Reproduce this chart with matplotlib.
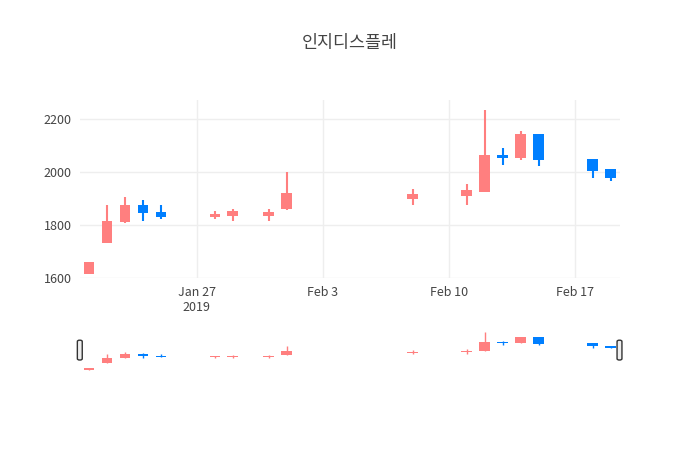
import datetime
import matplotlib
matplotlib.use('Agg')
import matplotlib.pyplot as plt
import matplotlib.dates as mdates
from matplotlib.patches import FancyBboxPatch
import numpy as np

plt.rcParams['font.family'] = ['Noto Sans CJK KR', 'DejaVu Sans']

dates = ['2019-01-21', '2019-01-22', '2019-01-23', '2019-01-24', '2019-01-25',
         '2019-01-28', '2019-01-29', '2019-01-31', '2019-02-01', '2019-02-08',
         '2019-02-11', '2019-02-12', '2019-02-13', '2019-02-14', '2019-02-15',
         '2019-02-18', '2019-02-19']
opens = [1617, 1731, 1810, 1876, 1851, 1829, 1835, 1835, 1860, 1899,
         1910, 1925, 2066, 2054, 2144, 2050, 2010]
highs = [1659, 1877, 1907, 1894, 1877, 1852, 1860, 1860, 2000, 1937,
         1954, 2235, 2091, 2155, 2144, 2050, 2010]
lows = [1617, 1731, 1808, 1816, 1824, 1821, 1815, 1816, 1858, 1877,
        1874, 1925, 2027, 2046, 2022, 1977, 1967]
closes = [1659, 1816, 1875, 1846, 1831, 1842, 1852, 1850, 1921, 1916,
          1931, 2065, 2054, 2144, 2044, 2004, 1979]

UP = '#ff7f7f'
DOWN = '#007fff'

x = mdates.date2num([datetime.datetime.strptime(d, '%Y-%m-%d') for d in dates])
o, h, l, c = map(np.array, (opens, highs, lows, closes))
cols = [UP if cc >= oo else DOWN for oo, cc in zip(o, c)]
x0 = mdates.date2num(datetime.datetime(2019, 1, 20, 12))
x1 = mdates.date2num(datetime.datetime(2019, 2, 19, 12))


def candles(ax, lw, minh):
    ax.vlines(x, l, h, colors=cols, lw=lw, zorder=2)
    bot = np.minimum(o, c)
    ax.bar(x, np.maximum(np.abs(c - o), minh), bottom=bot, width=0.58,
           color=cols, zorder=3)


fig = plt.figure(figsize=(7, 4.5), dpi=100)
ax = fig.add_axes([0.114, 0.382, 0.771, 0.396])
candles(ax, 1.5, 2)
ax.set_xlim(x0, x1)
ax.set_ylim(1600, 2272)
ax.set_yticks([1600, 1800, 2000, 2200])
ticks = [datetime.datetime(2019, 1, 27), datetime.datetime(2019, 2, 3),
         datetime.datetime(2019, 2, 10), datetime.datetime(2019, 2, 17)]
ax.set_xticks(mdates.date2num(ticks))
ax.set_xticklabels(['Jan 27\n2019', 'Feb 3', 'Feb 10', 'Feb 17'])
ax.grid(color='#eeeeee', lw=1)
ax.set_axisbelow(True)
for s in ax.spines.values():
    s.set_visible(False)
ax.tick_params(length=0, labelsize=9, colors='#444444', pad=6)
fig.text(0.5, 0.905, '인지디스플레', ha='center', va='center', fontsize=12.5,
         color='#444444')

# range slider
rs = fig.add_axes([0.114, 0.176, 0.771, 0.088])
candles(rs, 1.0, 8)
rs.set_xlim(x0, x1)
rs.set_ylim(1610, 2240)
rs.axis('off')
for xp in (0.114, 0.885):
    fig.patches.append(FancyBboxPatch(
        (xp - 0.0035, 0.2), 0.007, 0.044, boxstyle='round,pad=0,rounding_size=0.003',
        transform=fig.transFigure, fc='#eeeeee', ec='#333333', lw=1))

fig.savefig('out.png')
